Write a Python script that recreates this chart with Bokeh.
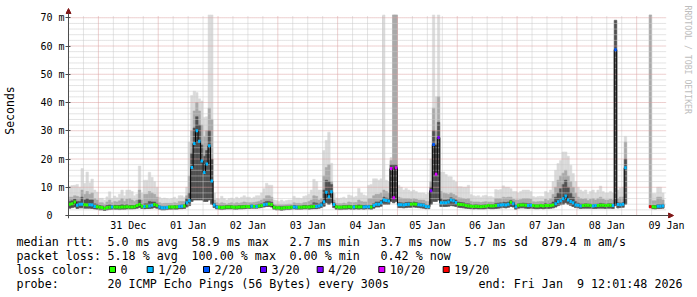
import math
import numpy as np
from bokeh.plotting import figure
from bokeh.layouts import column
from bokeh.models import Range1d, FixedTicker, Label, Arrow, NormalHead, ColumnDataSource
from bokeh.core.properties import value
from bokeh.embed import file_html
from bokeh.resources import INLINE

nan = float("nan")

# ---------------- data: one value per hour, first hour = 30 Dec 12:00 (one row per day) -------------
MEDIAN_MS = (
    [4.0, 4.2, 4.8, 3.6, 4.0, 4.0, 3.8, 3.7, 3.8, 3.7, 3.2, 3.1, 2.9, 2.8, 2.5, 2.8, 2.9, 3.0, 3.0, 3.0, 2.9, 3.0, 3.0, 3.1]
    + [3.0, 3.0, 3.1, 3.5, 3.9, 3.3, 3.2, 3.3, 3.4, 3.6, 3.9, 3.5, 3.0, 2.7, 2.7, 2.8, 3.0, 3.0, 3.0, 3.0, 3.2, 3.3, 3.4, 4.5]
    + [5.2, 17.0, 25.5, 30.0, 26.3, 19.3, 15.2, 18.2, 24.7, 12.2, 3.7, 3.0, 2.9, 2.8, 2.9, 3.0, 3.0, 3.0, 2.9, 2.9, 3.0, 3.0, 3.1, 3.2]
    + [3.1, 3.3, 3.2, 3.2, 3.4, 3.5, 3.8, 4.0, 4.1, 3.9, 2.9, 2.7, 2.7, 2.6, 2.7, 2.8, 2.8, 2.9, 3.0, 2.9, 2.9, 2.9, 3.0, 3.0]
    + [3.0, 3.1, 3.2, 3.2, 3.4, 3.7, 4.9, 8.2, 6.6, 8.4, 3.9, 3.1, 2.9, 2.9, 3.0, 3.0, 3.1, 3.0, 3.0, 3.1, 3.0, 3.1, 3.0, 3.1]
    + [3.1, 3.0, 3.5, 4.0, 4.0, 4.5, 5.5, 5.3, 5.1, 16.6, 6.3, 16.9, 3.8, 3.8, 3.7, 3.9, 4.0, 4.0, 4.1, 4.0, 3.8, 3.7, 3.6, 3.2]
    + [3.1, 8.8, 25.1, 14.6, 27.6, 4.5, 4.5, 4.5, 4.8, 5.5, 5.2, 4.6, 4.0, 3.9, 3.8, 3.5, 3.4, 3.3, 3.2, 3.3, 3.2, 3.1, 3.2, 3.3]
    + [3.5, 3.4, 3.4, 3.5, 3.6, 3.7, 3.8, 3.7, 4.0, 4.7, 4.2, 3.1, 3.6, 3.7, 3.7, 3.6, 3.5, 3.6, 3.5, 3.4, 3.4, 3.5, 3.4, 3.5]
    + [3.5, 3.5, 3.7, 4.2, 4.9, 5.2, 5.9, 6.9, 5.5, 5.0, 4.5, 3.7, 3.6, 3.4, 3.5, 3.6, 3.6, 3.5, 3.4, 3.5, 3.5, 3.6, 3.6, 3.5]
    + [3.6, 3.6, 3.5, 58.7, 3.9, 3.8, 4.0, 16.9, nan, nan, nan, nan, nan, nan, nan, nan, nan, 3.1, 3.1, 3.0, 3.3, 3.3, 3.4, nan]
)

# index into LOSS_LABELS / LOSS_COLORS (-1 = no data)
LOSS_IDX = (
    [0, 0, 0, 1, 1, 1, 0, 0, 1, 1, 1, 0, 0, 0, 0, 0, 0, 1, 0, 0, 0, 0, 0, 0]
    + [0, 0, 0, 0, 0, 0, 1, 0, 1, 1, 0, 0, 1, 1, 1, 1, 0, 0, 0, 0, 1, 1, 0, 1]
    + [1, 1, 1, 1, 1, 1, 1, 1, 1, 1, 1, 1, 0, 0, 0, 0, 0, 0, 0, 0, 0, 0, 0, 0]
    + [0, 1, 0, 1, 0, 0, 1, 1, 0, 0, 0, 0, 0, 0, 0, 0, 0, 0, 1, 1, 0, 0, 0, 0]
    + [0, 0, 0, 1, 1, 1, 1, 1, 1, 1, 1, 0, 0, 0, 0, 0, 0, 0, 1, 0, 0, 0, 1, 1]
    + [1, 0, 1, 1, 1, 1, 1, 1, 1, 5, 5, 5, 1, 1, 1, 1, 1, 0, 0, 0, 1, 1, 1, 1]
    + [1, 4, 2, 5, 4, 1, 1, 1, 1, 1, 1, 1, 0, 0, 0, 0, 0, 0, 0, 0, 0, 0, 0, 0]
    + [0, 0, 0, 0, 1, 1, 1, 1, 1, 0, 1, 1, 0, 0, 0, 0, 1, 1, 0, 0, 0, 0, 0, 0]
    + [0, 0, 0, 1, 1, 1, 1, 1, 1, 1, 1, 1, 1, 1, 0, 0, 0, 0, 1, 1, 0, 0, 0, 0]
    + [0, 0, 1, 2, 1, 1, 1, 1, -1, -1, -1, -1, -1, -1, -1, -1, -1, 6, 0, 0, 1, 1, 1, -1]
)

# smoke: lowest ping, dark core top, medium band top, highest ping (ms)
SMOKE_LO = (
    [2.6, 2.8, 3.0, 2.5, 2.7, 2.7, 2.6, 2.6, 2.6, 2.5, 2.3, 2.2, 2.0, 2.0, 1.8, 2.0, 2.1, 2.2, 2.2, 2.2, 2.1, 2.2, 2.2, 2.3]
    + [2.3, 2.3, 2.4, 2.6, 2.8, 2.5, 2.4, 2.5, 2.5, 2.6, 2.8, 2.6, 2.2, 2.0, 2.0, 2.1, 2.2, 2.2, 2.2, 2.2, 2.4, 2.4, 2.5, 3.0]
    + [3.5, 5.0, 5.5, 5.5, 5.5, 5.5, 5.0, 5.0, 5.5, 4.0, 2.8, 2.3, 2.2, 2.1, 2.2, 2.3, 2.3, 2.3, 2.2, 2.2, 2.3, 2.3, 2.4, 2.5]
    + [2.5, 2.6, 2.6, 2.6, 2.7, 2.8, 3.0, 3.2, 3.2, 3.0, 2.2, 2.0, 2.0, 1.9, 2.0, 2.1, 2.1, 2.2, 2.3, 2.2, 2.2, 2.2, 2.3, 2.3]
    + [2.2, 2.3, 2.4, 2.4, 2.6, 2.8, 3.3, 4.5, 4.0, 4.5, 2.8, 2.2, 2.1, 2.1, 2.2, 2.2, 2.3, 2.2, 2.2, 2.3, 2.2, 2.3, 2.2, 2.3]
    + [2.3, 2.2, 2.6, 3.0, 3.0, 3.3, 4.0, 4.0, 4.0, 5.0, 4.5, 5.0, 2.8, 2.8, 2.7, 2.8, 2.9, 2.9, 3.0, 2.9, 2.8, 2.7, 2.6, 2.4]
    + [2.4, 4.0, 5.0, 5.0, 5.5, 3.2, 3.2, 3.2, 3.3, 3.5, 3.4, 3.2, 2.9, 2.8, 2.7, 2.6, 2.5, 2.4, 2.3, 2.4, 2.3, 2.3, 2.3, 2.4]
    + [2.5, 2.4, 2.4, 2.5, 2.6, 2.7, 2.8, 2.7, 2.9, 3.2, 3.0, 2.2, 2.6, 2.7, 2.7, 2.6, 2.5, 2.6, 2.5, 2.4, 2.4, 2.5, 2.4, 2.5]
    + [2.5, 2.6, 2.7, 3.0, 3.5, 3.8, 4.0, 4.5, 4.0, 3.6, 3.2, 2.8, 2.7, 2.5, 2.6, 2.6, 2.6, 2.6, 2.5, 2.5, 2.6, 2.6, 2.6, 2.5]
    + [2.6, 2.6, 2.5, 3.5, 2.7, 2.8, 2.9, 4.0, nan, nan, nan, nan, nan, nan, nan, nan, nan, 2.8, 2.4, 2.3, 2.5, 2.5, 2.6, nan]
)
SMOKE_CORE = (
    [5.0, 5.2, 5.8, 5.0, 5.0, 6.5, 5.5, 6.0, 5.5, 5.5, 4.2, 4.0, 3.5, 3.4, 3.0, 3.5, 3.8, 3.5, 3.7, 3.6, 3.6, 3.9, 3.6, 3.9]
    + [3.6, 3.6, 3.6, 4.0, 5.5, 3.8, 4.2, 4.2, 5.0, 4.8, 4.8, 4.2, 3.4, 3.1, 3.1, 3.2, 3.4, 3.4, 3.5, 3.4, 3.7, 3.8, 3.9, 6.0]
    + [8.0, 22.0, 31.0, 35.0, 32.0, 25.0, 21.0, 23.0, 30.0, 20.0, 4.3, 3.5, 3.4, 3.4, 3.4, 3.5, 3.5, 3.5, 3.4, 3.4, 3.5, 3.5, 3.6, 3.7]
    + [3.6, 3.8, 3.7, 3.8, 4.0, 4.2, 4.6, 5.0, 5.0, 4.7, 3.4, 3.2, 3.2, 3.1, 3.2, 3.3, 3.3, 3.4, 3.6, 3.4, 3.4, 3.4, 3.6, 3.6]
    + [3.6, 3.8, 4.5, 4.4, 4.1, 4.5, 9.0, 12.5, 12.0, 11.0, 4.5, 3.6, 3.4, 3.4, 3.5, 3.5, 3.7, 3.5, 3.5, 3.6, 3.8, 3.7, 3.6, 3.7]
    + [3.7, 3.6, 4.2, 4.8, 4.8, 5.3, 6.5, 6.2, 6.0, 18.0, 18.0, 18.0, 4.6, 4.5, 4.4, 4.6, 4.7, 4.6, 4.8, 4.6, 4.4, 4.3, 4.2, 3.8]
    + [3.7, 10.0, 30.0, 25.0, 33.0, 6.0, 5.5, 5.5, 5.6, 6.3, 6.0, 5.5, 4.8, 4.6, 4.5, 4.2, 4.2, 3.9, 3.8, 3.9, 3.8, 3.7, 3.8, 3.9]
    + [4.0, 3.9, 3.9, 4.3, 4.4, 4.5, 4.7, 4.6, 4.8, 5.3, 4.8, 3.8, 4.2, 4.3, 4.4, 4.3, 4.2, 4.2, 4.0, 3.9, 3.9, 4.0, 3.9, 4.3]
    + [4.0, 4.2, 4.8, 6.5, 8.0, 9.5, 11.0, 12.5, 10.0, 8.0, 6.5, 5.0, 4.4, 4.1, 4.1, 4.2, 4.1, 4.1, 4.0, 4.0, 4.1, 4.3, 4.2, 4.1]
    + [4.2, 4.2, 4.1, 69.0, 4.5, 4.4, 4.6, 20.0, nan, nan, nan, nan, nan, nan, nan, nan, nan, 3.6, 3.6, 3.5, 3.9, 3.9, 4.0, nan]
)
SMOKE_HI = (
    [6.5, 6.5, 7.0, 6.8, 6.5, 9.0, 7.5, 8.5, 7.5, 8.0, 6.0, 5.5, 4.5, 4.5, 4.0, 4.8, 5.5, 4.5, 5.0, 4.8, 5.2, 6.0, 5.0, 5.8]
    + [6.0, 5.5, 5.0, 5.5, 9.0, 5.5, 7.5, 7.5, 8.5, 8.0, 7.5, 6.5, 4.5, 4.2, 4.3, 4.3, 4.3, 4.3, 4.5, 4.3, 5.0, 5.0, 5.0, 7.0]
    + [14.0, 30.0, 37.0, 40.0, 37.0, 32.0, 28.0, 30.0, 38.0, 34.0, 5.5, 4.5, 4.2, 4.5, 4.3, 4.0, 4.3, 4.5, 4.2, 4.5, 4.3, 4.5, 4.8, 4.6]
    + [4.5, 4.5, 4.6, 4.8, 5.0, 5.5, 6.0, 7.0, 7.0, 6.5, 4.0, 3.8, 3.8, 3.8, 3.8, 3.9, 4.0, 4.0, 4.5, 4.3, 4.3, 4.2, 4.5, 4.6]
    + [5.0, 5.5, 7.0, 6.8, 5.5, 6.0, 14.0, 17.0, 18.0, 12.0, 5.5, 4.3, 4.2, 4.2, 4.4, 4.2, 4.8, 4.6, 4.5, 4.6, 5.5, 5.0, 4.8, 4.8]
    + [6.0, 6.0, 7.0, 7.5, 7.5, 8.0, 9.0, 8.5, 8.0, 19.5, 71.0, 71.0, 6.5, 6.2, 6.0, 6.0, 6.0, 5.8, 6.0, 5.8, 5.5, 5.5, 5.5, 5.0]
    + [5.0, 12.0, 38.0, 30.0, 42.0, 8.5, 8.0, 7.8, 7.5, 8.0, 7.5, 7.0, 6.3, 6.2, 6.0, 5.8, 6.0, 5.0, 4.8, 4.8, 4.8, 4.6, 4.8, 4.9]
    + [4.8, 4.8, 4.7, 6.0, 6.0, 6.0, 6.5, 6.3, 6.5, 6.5, 5.8, 5.5, 5.5, 5.7, 6.0, 6.0, 6.0, 5.8, 4.9, 4.8, 4.9, 5.0, 4.9, 5.8]
    + [5.3, 6.0, 7.5, 10.0, 12.5, 14.0, 15.0, 16.0, 14.0, 12.0, 10.0, 8.0, 6.5, 6.0, 5.8, 6.0, 5.3, 5.8, 6.0, 5.5, 6.0, 6.5, 5.8, 5.5]
    + [5.5, 5.8, 5.5, 69.2, 6.0, 6.5, 6.5, 26.0, nan, nan, nan, nan, nan, nan, nan, nan, nan, 71.0, 5.2, 5.2, 6.5, 6.5, 5.5, nan]
)
SMOKE_TOP = (
    [10.4, 10.6, 10.7, 11.0, 10.0, 16.6, 11.4, 15.4, 11.6, 12.9, 9.0, 8.3, 6.1, 6.1, 5.5, 6.6, 8.4, 6.0, 6.9, 6.3, 7.5, 9.0, 7.0, 9.0]
    + [9.0, 8.5, 7.0, 7.5, 17.5, 8.0, 12.5, 12.5, 15.3, 13.5, 12.0, 10.0, 6.5, 6.0, 6.2, 6.0, 5.8, 6.0, 6.5, 5.8, 7.0, 7.0, 6.5, 10.0]
    + [26.0, 42.5, 44.0, 43.5, 41.3, 40.5, 34.8, 35.0, 71.0, 71.0, 8.0, 6.0, 5.8, 6.8, 6.0, 5.5, 6.0, 6.2, 5.8, 6.5, 6.0, 6.5, 7.0, 6.5]
    + [6.5, 6.0, 6.5, 7.0, 7.0, 8.0, 9.5, 11.4, 10.7, 10.7, 5.5, 5.3, 5.0, 5.5, 5.0, 5.3, 5.5, 5.5, 6.8, 6.2, 6.2, 6.0, 6.8, 7.0]
    + [7.5, 9.0, 12.8, 12.0, 9.0, 9.0, 23.0, 26.6, 29.5, 18.5, 7.9, 6.2, 6.0, 6.2, 6.5, 6.0, 7.3, 7.0, 6.5, 6.8, 9.6, 8.0, 7.3, 7.0]
    + [10.7, 11.0, 13.0, 13.0, 12.5, 13.0, 71.0, 12.5, 12.0, 20.5, 71.0, 71.0, 10.7, 10.0, 9.0, 9.6, 9.0, 8.5, 9.0, 8.5, 8.0, 8.0, 8.0, 7.5]
    + [8.0, 20.0, 71.0, 42.0, 71.0, 15.4, 15.4, 14.5, 13.7, 13.7, 12.5, 11.9, 10.2, 10.2, 10.0, 10.0, 10.7, 7.4, 7.0, 6.8, 7.0, 6.5, 7.0, 7.2]
    + [6.7, 6.8, 6.5, 9.2, 9.0, 9.2, 10.5, 10.0, 10.0, 9.5, 8.5, 8.5, 8.0, 8.5, 9.0, 9.0, 9.0, 8.5, 6.7, 6.5, 6.7, 6.8, 6.7, 8.5]
    + [8.0, 9.0, 12.0, 16.0, 18.4, 19.5, 22.5, 22.5, 21.0, 17.8, 14.9, 12.0, 10.0, 9.0, 8.5, 9.0, 7.5, 8.5, 9.0, 8.0, 9.0, 10.4, 8.5, 8.0]
    + [8.0, 8.5, 8.0, 69.2, 9.0, 9.7, 10.0, 28.0, nan, nan, nan, nan, nan, nan, nan, nan, nan, 71.0, 7.8, 7.8, 10.0, 10.0, 8.0, nan]
)

LOSS_LABELS = ["0", "1/20", "2/20", "3/20", "4/20", "10/20", "19/20"]
LOSS_COLORS = ["#26ff00", "#00b8ff", "#0059ff", "#5e00ff", "#7e00ff", "#dd00ff", "#ff0000"]

DAY_LABELS = ["31 Dec", "01 Jan", "02 Jan", "03 Jan", "04 Jan", "05 Jan", "06 Jan", "07 Jan", "08 Jan", "09 Jan"]
Y_TICKS = [0, 10, 20, 30, 40, 50, 60, 70]
Y_LABELS = ["0\u00a0\u00a0", "10 m", "20 m", "30 m", "40 m", "50 m", "60 m", "70 m"]

RTT_TEXTS = ["median rtt:", "5.0 ms avg", "58.9 ms max", "2.7 ms min", "3.7 ms now", "5.7 ms sd", "879.4 m am/s"]
LOSS_TEXTS = ["packet loss:", "5.18 % avg", "100.00 % max", "0.00 % min", "0.42 % now"]
PROBE_TEXTS = ["probe:", "20 ICMP Echo Pings (56 Bytes) every 300s"]
END_TEXT = "end: Fri Jan\u00a0 9 12:01:48 2026"

# ---------------- style / layout constants ----------------
MONO = "DejaVu Sans Mono"
LIGHT, MEDIUM, DARK = "#dadada", "#a9a9a9", "#505050"
MAJOR_GRID, MINOR_GRID = "#dba0a0", "#c8c8c8"
AXIS_COLOR, ARROW_COLOR = "#4a4a4a", "#801818"
W, H_CHART, H_LEG = 697, 234, 63
PLOT_H, PLOT_MS = 240.0, 70.8          # data extent of the graph area (hours, ms)
ORIGIN_X, ORIGIN_Y = 66, 215            # canvas position of (0 h, 0 ms)
PX_PER_H = 2.5
PX_PER_MS = 200 / PLOT_MS
FRAME_L, FRAME_R, FRAME_T, FRAME_B = 63, 695, 2, 218

p = figure(width=W, height=H_CHART,
           x_range=Range1d((FRAME_L - ORIGIN_X) / PX_PER_H, (FRAME_R - ORIGIN_X) / PX_PER_H),
           y_range=Range1d((ORIGIN_Y - FRAME_B) / PX_PER_MS, (ORIGIN_Y - FRAME_T) / PX_PER_MS),
           toolbar_location=None, output_backend="svg",
           min_border_left=FRAME_L, min_border_right=W - FRAME_R,
           min_border_top=FRAME_T, min_border_bottom=H_CHART - FRAME_B)
p.frame_align = False
p.outline_line_color = None
p.background_fill_color = "white"
p.border_fill_color = "white"
p.xgrid.visible = False
p.ygrid.visible = False

# axes (lines drawn as arrows below)
noons = [24 * (k + 1) for k in range(len(DAY_LABELS))]
xax = p.xaxis[0]
xax.ticker = FixedTicker(ticks=noons)
xax.major_label_overrides = dict(zip(noons, DAY_LABELS))
xax.major_tick_line_color = None
xax.minor_tick_line_color = None
xax.major_tick_out = 0
xax.major_tick_in = 0
xax.major_label_standoff = 1
xax.axis_line_color = None
xax.major_label_text_font = MONO
xax.major_label_text_font_size = "10px"
xax.major_label_text_color = "black"

yax = p.yaxis[0]
yax.ticker = FixedTicker(ticks=Y_TICKS)
yax.major_label_overrides = dict(zip(Y_TICKS, Y_LABELS))
yax.minor_tick_line_color = None
yax.major_tick_out = 0
yax.major_tick_in = 5
yax.major_tick_line_color = AXIS_COLOR
yax.major_label_standoff = 1
yax.axis_line_color = None
yax.major_label_text_font = MONO
yax.major_label_text_font_size = "10px"
yax.major_label_text_color = "black"
yax.axis_label = "Seconds"
yax.axis_label_text_font = MONO
yax.axis_label_text_font_style = "normal"
yax.axis_label_text_font_size = "11.5px"
yax.axis_label_text_color = "black"
yax.axis_label_standoff = 20

# smoke
med = np.array(MEDIAN_MS, dtype=float)
N = len(med)
hours = np.arange(N, dtype=float)
ok = ~np.isnan(med)
smoke = ColumnDataSource(dict(
    left=hours[ok], right=hours[ok] + 1,
    lo=np.array(SMOKE_LO, dtype=float)[ok],
    core=np.array(SMOKE_CORE, dtype=float)[ok],
    hi=np.array(SMOKE_HI, dtype=float)[ok],
    top=np.array(SMOKE_TOP, dtype=float)[ok],
))
for top_col, col in (("top", LIGHT), ("hi", MEDIUM), ("core", DARK)):
    p.quad(left="left", right="right", bottom="lo", top=top_col, source=smoke,
           fill_color=col, line_color=col, line_width=0.5)

# grid (only over the graph area)
minor_y = [v for v in range(2, 70, 2) if v % 10]
major_y = Y_TICKS[1:]
midnights = [12 + 24 * k for k in range(len(DAY_LABELS))]
six_hours = [6 * k for k in range(1, 40) if (6 * k - 12) % 24 != 0]
p.segment(x0=0, x1=PLOT_H, y0=minor_y, y1=minor_y, line_color=MINOR_GRID, line_dash="1 1", line_width=1)
p.segment(x0=six_hours, x1=six_hours, y0=0, y1=PLOT_MS, line_color=MINOR_GRID, line_dash="1 1", line_width=1)
p.segment(x0=0, x1=PLOT_H, y0=major_y, y1=major_y, line_color=MAJOR_GRID, line_dash="1 1", line_width=1)
p.segment(x0=midnights, x1=midnights, y0=0, y1=PLOT_MS, line_color=MAJOR_GRID, line_dash="1 1", line_width=1)

# median line: thin black step, then loss-coloured marks
pairs = [i for i in range(N - 1) if ok[i] and ok[i + 1]]
p.segment(x0=[i + 1 for i in pairs], x1=[i + 1 for i in pairs],
          y0=[med[i] for i in pairs], y1=[med[i + 1] for i in pairs],
          line_color="black", line_width=1)
p.segment(x0=hours[ok], x1=hours[ok] + 1, y0=med[ok], y1=med[ok], line_color="black", line_width=1)
p.segment(x0=hours[ok], x1=hours[ok] + 1, y0=med[ok], y1=med[ok],
          line_color=[LOSS_COLORS[LOSS_IDX[i]] for i in range(N) if ok[i]],
          line_width=3, line_cap="butt")

# axis lines with arrow heads
p.add_layout(Arrow(x_start=0, y_start=(ORIGIN_Y - FRAME_B) / PX_PER_MS,
                   x_end=0, y_end=(ORIGIN_Y - 8) / PX_PER_MS,
                   line_color=AXIS_COLOR, line_width=1,
                   end=NormalHead(size=5, fill_color=ARROW_COLOR, line_color=ARROW_COLOR)))
p.add_layout(Arrow(x_start=(FRAME_L - ORIGIN_X) / PX_PER_H, y_start=0,
                   x_end=(673 - ORIGIN_X) / PX_PER_H, y_end=0,
                   line_color=AXIS_COLOR, line_width=1,
                   end=NormalHead(size=5, fill_color=ARROW_COLOR, line_color=ARROW_COLOR)))

# vertical watermark on the right
p.add_layout(Label(x=(687 - ORIGIN_X) / PX_PER_H, y=(ORIGIN_Y - 5) / PX_PER_MS,
                   text="RRDTOOL / TOBI OETIKER", angle=-math.pi / 2,
                   text_font=MONO, text_font_size="8.2px", text_color="#bdbdbd",
                   text_align="left", text_baseline="middle"))

# ---------------- legend area ----------------
leg = figure(width=W, height=H_LEG, x_range=Range1d(0, W), y_range=Range1d(H_LEG, 0),
             x_axis_type=None, y_axis_type=None, toolbar_location=None, output_backend="svg",
             min_border=0)
leg.frame_align = False
leg.outline_line_color = None
leg.background_fill_color = "white"
leg.border_fill_color = "white"

CH = 7.0
X0 = 16
ROW_Y = [7, 21, 35, 49]
RTT_COLS = [0, 13, 25, 39, 52, 64, 75]
LOSS_COLS = [0, 13, 25, 39, 52]
PROBE_COLS = [0, 13]

tx, ty, tt = [], [], []
for texts, cols, y in ((RTT_TEXTS, RTT_COLS, ROW_Y[0]), (LOSS_TEXTS, LOSS_COLS, ROW_Y[1]),
                       (PROBE_TEXTS, PROBE_COLS, ROW_Y[3])):
    for t, c in zip(texts, cols):
        tx.append(X0 + c * CH)
        ty.append(y)
        tt.append(t)
tx.append(X0)
ty.append(ROW_Y[2])
tt.append("loss color:")
tx.append(478)
ty.append(ROW_Y[3])
tt.append(END_TEXT)

SQUARE_LEFT = [109, 146.7, 203, 260, 316.7, 378.3, 442.7]
leg.rect(x=[s + 3 for s in SQUARE_LEFT], y=[ROW_Y[2]] * len(SQUARE_LEFT), width=6, height=6,
         fill_color=LOSS_COLORS, line_color="black", line_width=1)
for s, lab in zip(SQUARE_LEFT, LOSS_LABELS):
    tx.append(s + 11)
    ty.append(ROW_Y[2])
    tt.append(lab)

leg.text(x=tx, y=ty, text=tt, text_font=value(MONO), text_font_size=value("11.7px"),
         text_baseline="middle", text_align="left", text_color="black")

layout = column(p, leg, spacing=0)
open("out.html", "w").write(file_html(layout, INLINE))
